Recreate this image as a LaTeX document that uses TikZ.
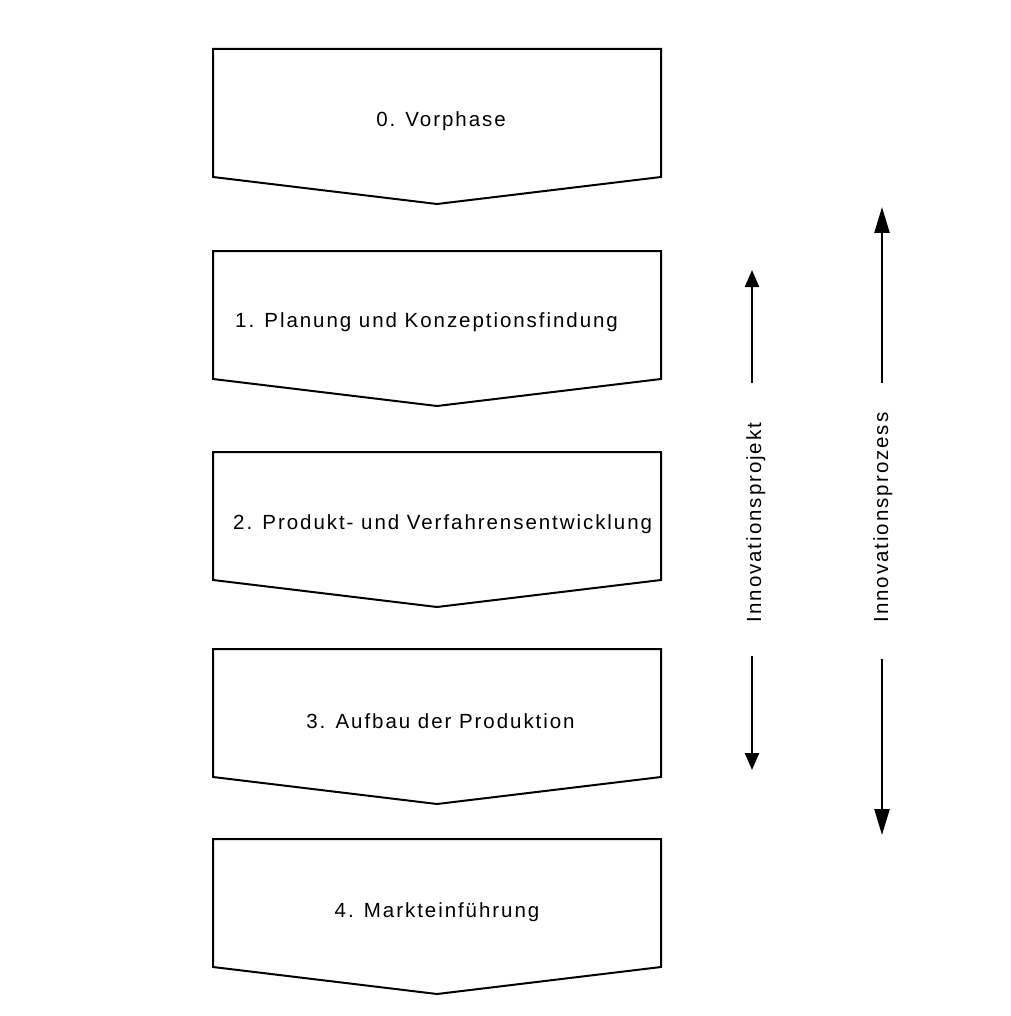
\documentclass[tikz,border=0pt]{standalone}
\usepackage{fontspec}
\setmainfont{Liberation Sans}[LetterSpace=9.5]
\usetikzlibrary{arrows.meta}
\begin{document}
\begin{tikzpicture}[x=1pt,y=-1pt,
  phase/.style={line width=2pt, line join=miter},
  lbl/.style={font=\fontsize{20.5}{24}\selectfont, inner sep=0pt},
  spanshort/.style={line width=2.4pt, -{Triangle[length=17pt,width=14pt]}},
  spanlong/.style={line width=2.4pt, -{Triangle[length=26pt,width=15pt]}}]
\useasboundingbox (0,0) rectangle (1010,1016);
\fill[white] (0,0) rectangle (1010,1016);

% phase chevrons: rectangle with a shallow downward point
\foreach \n/\t in {0/49, 1/251, 2/452, 3/649, 4/839} {
  \coordinate (nw\n) at (213,\t);
  \coordinate (ne\n) at (661,\t);
  \coordinate (se\n) at (661,\t+128);
  \coordinate (tip\n) at (437,\t+155);
  \coordinate (sw\n) at (213,\t+128);
  \draw[phase] (nw\n) -- (ne\n) -- (se\n) -- (tip\n) -- (sw\n) -- cycle;
}

% phase titles
\node[lbl, anchor=base] (t0) at (441,127) {0. Vorphase};
\node[lbl, anchor=base west] (t1) at (235,327) {1. Planung und Konzeptionsfindung};
\node[lbl, anchor=base west] (t2) at (233,529) {2. Produkt- und Verfahrensentwicklung};
\node[lbl, anchor=base] (t3) at (440.5,728) {3. Aufbau der Produktion};
\node[lbl, anchor=base] (t4) at (437,917) {4. Markteinführung};

% scope of the innovation project
\coordinate (pu0) at (752,383);
\coordinate (pu1) at (752,270);
\coordinate (pd0) at (752,656);
\coordinate (pd1) at (752,770);
\draw[spanshort] (pu0) -- (pu1);
\draw[spanshort] (pd0) -- (pd1);
\node[lbl, rotate=90, anchor=base] (lp) at (761,522.5) {Innovationsprojekt};

% scope of the innovation process
\coordinate (zu0) at (882,383);
\coordinate (zu1) at (882,207);
\coordinate (zd0) at (882,659);
\coordinate (zd1) at (882,835);
\draw[spanlong] (zu0) -- (zu1);
\draw[spanlong] (zd0) -- (zd1);
\node[lbl, rotate=90, anchor=base] (lz) at (888,517.5) {Innovationsprozess};
\end{tikzpicture}
\end{document}
